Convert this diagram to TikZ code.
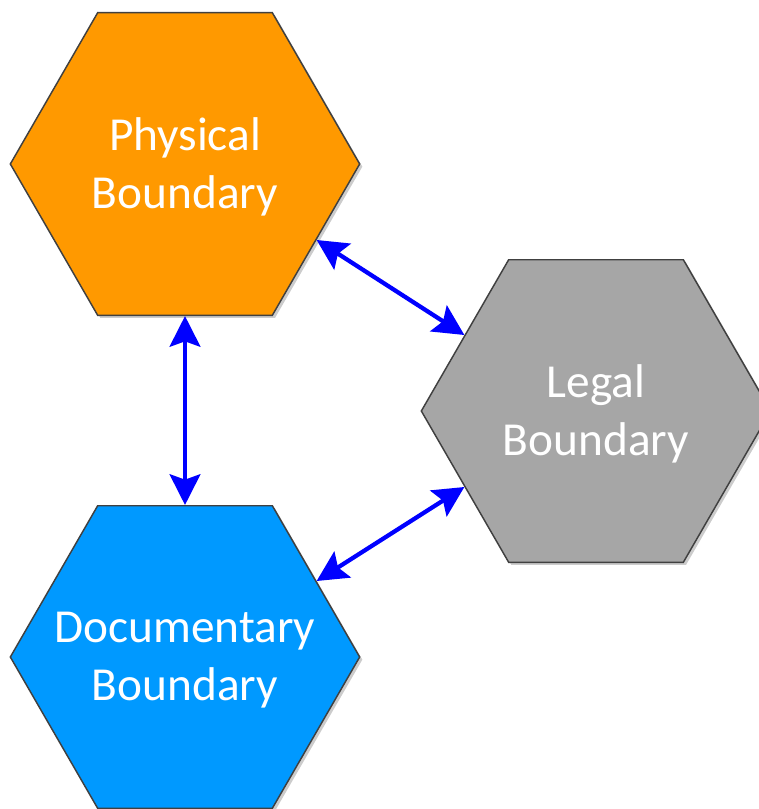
\documentclass[tikz,border=0pt]{standalone}
\usepackage{fontspec}
\setmainfont{Carlito}
\usetikzlibrary{shapes.geometric,shadows,arrows.meta}
\definecolor{physorange}{HTML}{FF9900}
\definecolor{legalgray}{HTML}{A6A6A6}
\definecolor{docblue}{HTML}{0099FF}

\begin{document}
\begin{tikzpicture}[x=0.75pt,y=-0.75pt,
    hexbox/.style={regular polygon,regular polygon sides=6,minimum size=262pt,
      draw=black!75,line width=1.1pt,inner sep=0pt,
      drop shadow={shadow xshift=2pt,shadow yshift=-2pt,opacity=0.2,fill=black}},
    hextext/.style={text=white,align=center,inner sep=0pt,yshift=-2pt,
      font=\fontsize{35.5}{43.5}\selectfont},
    link/.style={{Stealth[length=23pt,width=23pt,inset=4pt]}-{Stealth[length=23pt,width=23pt,inset=4pt]},
      color=blue,line width=3.2pt}]
  \useasboundingbox (0,0) rectangle (759,809);
  \node[hexbox,fill=physorange,label={[hextext]center:Physical\\Boundary}] (phys) at (185,164) {};
  \node[hexbox,fill=legalgray,label={[hextext]center:Legal\\Boundary}] (legal) at (596,411) {};
  \node[hexbox,fill=docblue,label={[hextext]center:Documentary\\Boundary}] (doc) at (185,657) {};
  \path[link] (phys.south) edge (doc.north);
  \path[link] (phys.-30) edge (legal.150);
  \path[link] (legal.210) edge (doc.30);
\end{tikzpicture}
\end{document}
